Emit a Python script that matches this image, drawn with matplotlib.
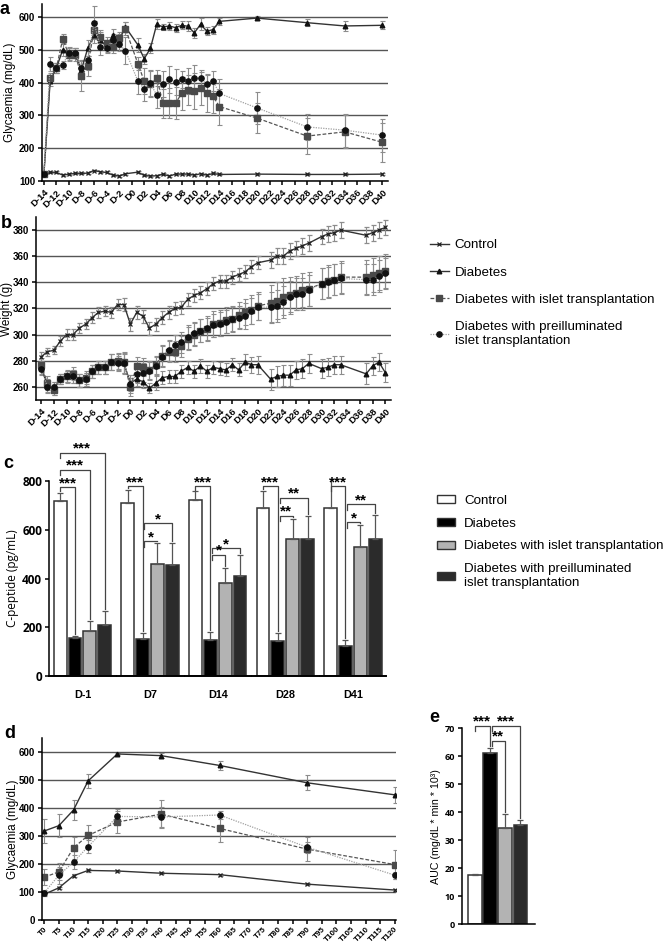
import matplotlib.pyplot as plt
from matplotlib.lines import Line2D
from matplotlib.patches import Patch

plt.rcParams['font.family'] = ['Liberation Sans', 'DejaVu Sans']
plt.rcParams['axes.linewidth'] = 1.1
plt.rcParams['xtick.major.width'] = 1.1
plt.rcParams['ytick.major.width'] = 1.1
plt.rcParams['xtick.major.size'] = 3
plt.rcParams['ytick.major.size'] = 3
plt.rcParams['xtick.major.pad'] = 2
plt.rcParams['ytick.major.pad'] = 2

FW, FH = 665, 944

LABELS = ['Control', 'Diabetes', 'Diabetes with islet transplantation',
          'Diabetes with preilluminated\nislet transplantation']

# a - glycaemia over the follow up
DAYS_A = [-14, -13, -12, -11, -10, -9, -8, -7, -6, -5, -4, -3, -2, -1,
          1, 2, 3, 4, 5, 6, 7, 8, 9, 10, 11, 12, 13, 14, 20, 28, 34, 40]
GLY_CTRL = [120, 126, 126, 118, 121, 123, 123, 124, 132, 128, 126, 118, 115, 122,
            127, 117, 115, 116, 121, 115, 121, 121, 121, 118, 122, 118, 123, 120, 121, 120, 120, 121]
GLY_DIAB = [120, 405, 445, 500, 490, 490, 440, 505, 545, 530, 510, 545, 530, 570,
            515, 473, 505, 578, 570, 573, 568, 575, 572, 552, 578, 557, 562, 587, 597, 583, 573, 575]
GLY_ISLET = [120, 413, 445, 533, 485, 485, 420, 450, 562, 540, 520, 510, 535, 565,
             458, 405, 397, 415, 337, 338, 338, 367, 378, 375, 383, 367, 358, 327, 292, 237, 250, 218]
GLY_PRE = [120, 457, 445, 455, 490, 490, 445, 468, 583, 510, 505, 530, 517, 498,
           405, 380, 398, 362, 395, 410, 403, 410, 405, 415, 413, 395, 405, 367, 323, 265, 255, 240]
GLY_CTRL_SE = [3, 3, 3, 3, 3, 3, 3, 3, 3, 3, 3, 3, 3, 3,
               3, 3, 3, 3, 3, 3, 3, 3, 3, 3, 3, 3, 3, 3, 3, 3, 3, 3]
GLY_DIAB_SE = [5, 15, 15, 20, 20, 15, 30, 25, 25, 25, 15, 20, 20, 15,
               20, 15, 15, 15, 10, 12, 12, 12, 15, 15, 18, 12, 12, 10, 5, 10, 15, 12]
GLY_ISLET_SE = [3, 15, 15, 15, 20, 20, 45, 30, 25, 20, 20, 20, 20, 20,
                20, 40, 40, 25, 45, 45, 50, 50, 45, 55, 50, 55, 50, 55, 45, 55, 50, 60]
GLY_PRE_SE = [3, 20, 15, 12, 15, 15, 25, 30, 50, 25, 15, 20, 20, 40,
              40, 35, 40, 40, 40, 40, 40, 25, 40, 40, 25, 30, 30, 45, 50, 40, 50, 50]

# b - body weight
DAYS_B = [-14, -13, -12, -11, -10, -9, -8, -7, -6, -5, -4, -3, -2, -1, 0,
          1, 2, 3, 4, 5, 6, 7, 8, 9, 10, 11, 12, 13, 14, 15, 16, 17, 18, 19, 20,
          22, 23, 24, 25, 26, 27, 28, 30, 31, 32, 33, 37, 38, 39, 40]
WT_CTRL = [283, 287, 288, 295, 300, 300, 305, 308, 313, 317, 318, 317, 323, 323, 308,
           317, 314, 305, 308, 313, 317, 320, 321, 327, 330, 332, 335, 339, 341, 341, 344, 346, 348, 352, 355,
           357, 360, 360, 364, 366, 368, 370, 375, 377, 378, 380, 376, 378, 380, 382]
WT_DIAB = [275, 261, 259, 266, 268, 268, 265, 266, 272, 275, 275, 279, 279, 278, 263,
           266, 264, 259, 263, 267, 268, 268, 272, 275, 272, 276, 272, 275, 274, 273, 277, 273, 279, 277, 277,
           266, 268, 269, 269, 273, 274, 278, 274, 275, 277, 277, 270, 276, 279, 271]
WT_ISLET = [277, 263, 258, 266, 268, 270, 265, 267, 272, 275, 275, 279, 280, 279, 260,
            276, 275, 273, 277, 284, 287, 287, 291, 297, 300, 303, 304, 308, 309, 311, 312, 315, 317, 319, 322,
            324, 326, 329, 330, 332, 334, 335, 339, 341, 342, 344, 344, 346, 347, 349]
WT_PRE = [274, 260, 260, 266, 268, 268, 265, 266, 272, 275, 275, 279, 278, 278, 262,
          270, 271, 272, 276, 283, 288, 292, 294, 298, 301, 303, 305, 307, 308, 310, 312, 313, 314, 318, 321,
          321, 322, 325, 329, 331, 331, 334, 339, 340, 342, 343, 342, 342, 345, 347]
WT_CTRL_SE = [4, 3, 3, 4, 4, 4, 4, 4, 4, 4, 4, 4, 4, 5, 5,
              5, 5, 5, 5, 5, 5, 5, 5, 5, 5, 5, 5, 5, 5, 5, 5, 5, 5, 5, 5,
              6, 6, 6, 6, 6, 6, 6, 6, 6, 6, 6, 6, 6, 6, 6]
WT_DIAB_SE = [5, 5, 5, 4, 5, 5, 5, 5, 5, 5, 5, 6, 6, 7, 6,
              5, 5, 4, 5, 5, 5, 5, 5, 5, 5, 5, 5, 5, 5, 5, 5, 5, 6, 6, 7,
              8, 8, 8, 8, 7, 7, 7, 7, 7, 7, 7, 8, 7, 7, 7]
WT_ISLET_SE = [5, 5, 4, 4, 4, 5, 5, 5, 5, 5, 5, 6, 6, 8, 7,
               7, 7, 7, 7, 8, 8, 8, 8, 9, 9, 9, 9, 10, 10, 10, 10, 10, 10, 11, 11,
               14, 14, 14, 14, 13, 13, 13, 12, 12, 12, 12, 13, 13, 13, 13]
WT_PRE_SE = [5, 5, 4, 4, 4, 5, 5, 5, 5, 5, 5, 6, 6, 8, 7,
             7, 7, 7, 7, 8, 8, 8, 8, 9, 9, 9, 9, 9, 9, 9, 9, 9, 10, 10, 10,
             12, 12, 12, 12, 12, 12, 12, 12, 12, 12, 12, 12, 12, 12, 12]

# c - C-peptide
CP_DAYS = ['D-1', 'D7', 'D14', 'D28', 'D41']
CP_CTRL = [718, 710, 722, 690, 688]
CP_DIAB = [155, 153, 146, 145, 122]
CP_ISLET = [184, 460, 382, 562, 530]
CP_PRE = [210, 455, 410, 562, 562]
CP_CTRL_SE = [34, 54, 37, 70, 131]
CP_DIAB_SE = [8, 24, 35, 30, 25]
CP_ISLET_SE = [41, 85, 63, 82, 89]
CP_PRE_SE = [56, 90, 87, 95, 98]
# (group, from bar, to bar, bracket height, stars)
CP_SIG = [(0, 0, 1, 775, '***'), (0, 0, 2, 847, '***'), (0, 0, 3, 915, '***'),
          (1, 0, 1, 779, '***'), (1, 1, 2, 552, '*'), (1, 1, 3, 626, '*'),
          (2, 0, 1, 779, '***'), (2, 1, 2, 498, '*'), (2, 1, 3, 525, '*'),
          (3, 0, 1, 779, '***'), (3, 1, 2, 657, '**'), (3, 1, 3, 732, '**'),
          (4, 0, 1, 779, '***'), (4, 1, 2, 630, '*'), (4, 1, 3, 704, '**')]

# d - IPGTT
T_MIN = [0, 5, 10, 15, 25, 40, 60, 90, 120]
TT_CTRL = [92, 115, 158, 177, 175, 167, 162, 128, 107]
TT_DIAB = [318, 337, 393, 497, 593, 587, 552, 490, 447]
TT_ISLET = [153, 172, 258, 302, 350, 378, 327, 253, 198]
TT_PRE = [98, 160, 207, 262, 370, 368, 375, 260, 160]
TT_CTRL_SE = [5, 4, 5, 4, 4, 4, 4, 4, 3]
TT_DIAB_SE = [42, 40, 35, 25, 5, 8, 17, 27, 28]
TT_ISLET_SE = [28, 30, 40, 37, 40, 50, 48, 42, 52]
TT_PRE_SE = [10, 30, 25, 22, 25, 35, 15, 20, 12]

# e - AUC
AUC = [17.4, 61.0, 34.4, 35.4]
AUC_SE = [0.5, 2.0, 5.0, 1.9]
AUC_SIG = [(0, 1, 71, '***'), (1, 3, 71, '***'), (1, 2, 65.5, '**')]

STYLES = [
    dict(color='#333333', ls='-', lw=1.0, marker='x', ms=3.3, mfc='none', mec='#222222', mew=0.9),
    dict(color='#333333', ls='-', lw=1.0, marker='^', ms=3.3, mfc='#111111', mec='#111111'),
    dict(color='#555555', ls=(0, (3, 1.5)), lw=0.9, marker='s', ms=3.8, mfc='#4a4a4a', mec='#4a4a4a'),
    dict(color='#a0a0a0', ls=(0, (1, 1)), lw=0.9, marker='o', ms=3.8, mfc='#111111', mec='#111111'),
]
BAR_FILL = ['white', 'black', '#b3b3b3', '#2b2b2b']


def px_box(left, top, right, bottom):
    return [left / FW, 1 - bottom / FH, (right - left) / FW, (bottom - top) / FH]


def lines_panel(ax, x, ys, errs):
    ax.yaxis.grid(True, color='#555555', lw=1.0)
    ax.set_axisbelow(True)
    for y, e, st in zip(ys, errs, STYLES):
        ax.errorbar(x, y, yerr=e, ecolor='#8c8c8c', elinewidth=0.8, capsize=1.8, capthick=0.8, **st)
    for s in ['top', 'right']:
        ax.spines[s].set_visible(False)
    ax.tick_params(labelsize=7)
    for t in ax.get_yticklabels():
        t.set_fontweight('bold')


def rot_ticks(ax, ticks, labels, size=6.8, pad=2):
    ax.set_xticks(ticks)
    ax.set_xticklabels(labels, rotation=45, ha='right', rotation_mode='anchor',
                       fontweight='bold', fontsize=size)
    ax.tick_params(axis='x', pad=pad)


def bracket(ax, x1, x2, h, y1, y2, text, size=11):
    ax.plot([x1, x1, x2, x2], [y1, h, h, y2], color='#444444', lw=0.9, clip_on=False)
    ax.text((x1 + x2) / 2, h, text, ha='center', va='baseline', fontsize=size,
            fontweight='bold', clip_on=False)


fig = plt.figure(figsize=(FW / 100, FH / 100), dpi=100)

# ---- a
ax = fig.add_axes(px_box(42, 4, 388, 181))
lines_panel(ax, DAYS_A, [GLY_CTRL, GLY_DIAB, GLY_ISLET, GLY_PRE],
            [GLY_CTRL_SE, GLY_DIAB_SE, GLY_ISLET_SE, GLY_PRE_SE])
ax.set_ylim(100, 640)
ax.set_yticks([100, 200, 300, 400, 500, 600])
ax.set_xlim(-14.3, 40.9)
rot_ticks(ax, range(-14, 41, 2), [f'D{d}' for d in range(-14, 41, 2)])
ax.set_ylabel('Glycaemia (mg/dL)', fontsize=8.5)
ax.yaxis.set_label_coords(-0.075, 0.5)

# ---- b
ax = fig.add_axes(px_box(36, 217, 391, 400))
lines_panel(ax, DAYS_B, [WT_CTRL, WT_DIAB, WT_ISLET, WT_PRE],
            [WT_CTRL_SE, WT_DIAB_SE, WT_ISLET_SE, WT_PRE_SE])
ax.set_ylim(250, 390)
ax.set_yticks(range(260, 381, 20))
ax.set_xlim(-14.8, 40.9)
rot_ticks(ax, range(-14, 41, 2), [f'D{d}' for d in range(-14, 41, 2)])
ax.set_ylabel('Weight (g)', fontsize=8.5)
ax.yaxis.set_label_coords(-0.066, 0.5)

handles = [Line2D([], [], **st) for st in STYLES]
fig.legend(handles, LABELS, loc='upper left', bbox_to_anchor=(430 / FW, 1 - 239 / FH),
           frameon=False, fontsize=9.6, handlelength=1.4, handletextpad=0.45,
           labelspacing=1.12, borderaxespad=0, borderpad=0)

# ---- c
ax = fig.add_axes(px_box(49, 481, 387, 676))
cp_means = [CP_CTRL, CP_DIAB, CP_ISLET, CP_PRE]
cp_errs = [CP_CTRL_SE, CP_DIAB_SE, CP_ISLET_SE, CP_PRE_SE]
offs = [-0.335, -0.115, 0.105, 0.325]
for k in range(4):
    xs = [i + offs[k] for i in range(len(CP_DAYS))]
    ax.bar(xs, cp_means[k], width=0.19, color=BAR_FILL[k], edgecolor='#333333', lw=1.1,
           yerr=[[0] * len(CP_DAYS), cp_errs[k]],
           error_kw=dict(ecolor='#555555', elinewidth=0.9, capsize=2.5, capthick=0.9))
ax.set_xlim(-0.5, 4.5)
ax.set_ylim(0, 800)
ax.set_yticks([0, 200, 400, 600, 800])
for s in ['top', 'right', 'bottom']:
    ax.spines[s].set_visible(False)
for i in range(len(CP_DAYS)):
    ax.plot([i - 0.49 if i else -0.5, i + 0.49], [0, 0], color='black', lw=1.4, clip_on=False)
ax.set_xticks(range(len(CP_DAYS)))
ax.set_xticklabels(CP_DAYS, fontweight='bold', fontsize=7.8)
ax.tick_params(axis='x', length=0, pad=10)
ax.tick_params(axis='y', labelsize=8.5)
for t in ax.get_yticklabels():
    t.set_fontfamily('Open Sans')
    t.set_fontweight('bold')
ax.set_ylabel('C-peptide (pg/mL)', fontsize=8.5, fontfamily='Open Sans')
ax.yaxis.set_label_coords(-0.089, 0.5)
for g, a, b, h, txt in CP_SIG:
    top_a = cp_means[a][g] + cp_errs[a][g]
    top_b = cp_means[b][g] + cp_errs[b][g]
    xa = g + offs[a] + (0.025 if a == 1 else 0)
    xb = g + offs[b]
    ya = max(top_a + 6, h - 22)
    if ya >= h:
        ya = h - 22
    bracket(ax, xa, xb, h, ya, top_b + 8, txt)

fig.legend([Patch(facecolor=c, edgecolor='#333333', lw=1.0) for c in BAR_FILL], LABELS,
           loc='upper left', bbox_to_anchor=(437 / FW, 1 - 495 / FH), frameon=False,
           fontsize=9.6, handlelength=1.35, handleheight=0.55, handletextpad=0.7,
           labelspacing=0.8, borderaxespad=0, borderpad=0)

# ---- d
ax = fig.add_axes(px_box(41.7, 738, 396, 920))
lines_panel(ax, T_MIN, [TT_CTRL, TT_DIAB, TT_ISLET, TT_PRE],
            [TT_CTRL_SE, TT_DIAB_SE, TT_ISLET_SE, TT_PRE_SE])
ax.set_ylim(0, 650)
ax.set_yticks(range(0, 601, 100))
ax.set_xlim(-0.9, 120.4)
rot_ticks(ax, range(0, 121, 5), [f'T{t}' for t in range(0, 121, 5)], size=5.8, pad=1)
ax.set_ylabel('Glycaemia (mg/dL)', fontsize=8.5)
ax.yaxis.set_label_coords(-0.064, 0.5)

# ---- e
ax = fig.add_axes(px_box(461.7, 728.3, 535, 924))
ax.bar(range(4), AUC, width=0.89, color=BAR_FILL, edgecolor='#333333', lw=1.1,
       yerr=[[0] * 4, AUC_SE], error_kw=dict(ecolor='#555555', elinewidth=0.9, capsize=2.5, capthick=0.9))
ax.set_xlim(-0.86, 3.97)
ax.set_ylim(0, 70)
ax.set_yticks(range(0, 71, 10))
ax.set_xticks([])
for s in ['top', 'right']:
    ax.spines[s].set_visible(False)
ax.tick_params(axis='y', labelsize=6.5)
for t in ax.get_yticklabels():
    t.set_fontfamily('Open Sans')
    t.set_fontweight('bold')
ax.set_ylabel('AUC (mg/dL * min * 10³)', fontsize=7.7)
ax.yaxis.set_label_coords(-0.28, 0.5)
for a, b, h, txt in AUC_SIG:
    top_a = AUC[a] + AUC_SE[a]
    top_b = AUC[b] + AUC_SE[b]
    xa = a + (0.12 if a == 1 else 0)
    ya = max(top_a + 0.8, h - 2)
    bracket(ax, xa, b, h, ya, top_b + 0.6, txt)

for letter, x, y in [('a', 5, 10), ('b', 6, 223), ('c', 8, 464), ('d', 10, 734), ('e', 434, 717)]:
    fig.text(x / FW, 1 - y / FH, letter, fontsize=13, fontweight='bold', ha='center', va='center')

fig.savefig('out.png', dpi=100)
